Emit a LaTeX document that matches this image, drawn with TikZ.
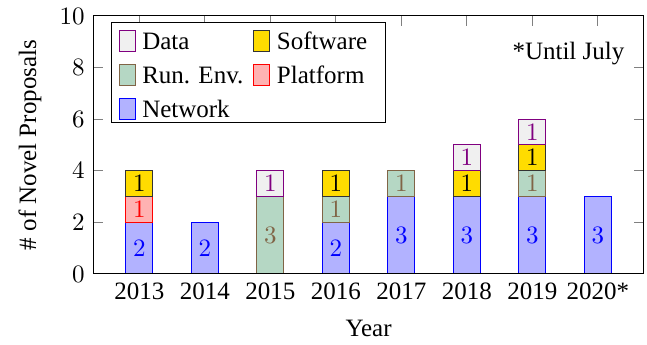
\documentclass[tikz,border=0pt]{standalone}
\usepackage{fontspec}
\newfontfamily\tmsfont{Liberation Serif}
\usetikzlibrary{positioning}

\definecolor{envfill}{RGB}{181,215,196}
\definecolor{envline}{RGB}{128,100,70}
\definecolor{softfill}{RGB}{255,220,0}

\tikzset{
  net/.style={draw=blue, fill=blue!30},
  env/.style={draw=envline, fill=envfill},
  plat/.style={draw=red, fill=red!30},
  soft/.style={draw=black!80, fill=softfill},
  dat/.style={draw=violet, fill=black!6},
  swatch/.style={minimum width=6.4pt, minimum height=8.5pt, inner sep=0pt},
  legtext/.style={font=\tmsfont, inner sep=2.5pt},
  tick/.style={gray},
}

\begin{document}
\begin{tikzpicture}[x=26.2pt,y=10.32pt]
    \useasboundingbox (-2.127,-2.752) rectangle (7.751,10.62);

    % ticks
    \foreach \y in {2,4,6,8} {
        \draw[tick] (-0.7,\y) -- ++(0.153,0);
        \draw[tick] (7.7,\y) -- ++(-0.153,0);
    }
    \foreach \i in {0,...,7}
        \draw[tick] (\i,10) -- ++(0,-0.39);

    % tick labels
    \foreach \y in {0,2,...,10}
        \node[left] (y\y) at (-0.7,\y) {$\y$};
    \foreach \i/\yr in {0/2013,1/2014,2/2015,3/2016,4/2017,5/2018,6/2019,7/2020*}
        \node[below, font=\tmsfont] (x\i) at (\i,0) {\yr};

    % stacked bars
    \foreach \i/\b/\h/\s/\c in {0/0/2/net/blue, 0/2/1/plat/red, 0/3/1/soft/black,
                                1/0/2/net/blue,
                                2/0/3/env/envline, 2/3/1/dat/violet,
                                3/0/2/net/blue, 3/2/1/env/envline, 3/3/1/soft/black,
                                4/0/3/net/blue, 4/3/1/env/envline,
                                5/0/3/net/blue, 5/3/1/soft/black, 5/4/1/dat/violet,
                                6/0/3/net/blue, 6/3/1/env/envline, 6/4/1/soft/black, 6/5/1/dat/violet,
                                7/0/3/net/blue} {
        \draw[\s] (\i-0.205,\b) rectangle (\i+0.205,\b+\h);
        \node[text=\c] (b\i-\b) at (\i,\b+\h/2) {$\h$};
    }

    \draw (-0.7,0) rectangle (7.7,10);

    % legend
    \draw[fill=white] (-0.432,5.853) rectangle (3.751,9.729);
    \node[swatch, dat] (ldat) at (-0.188,9.03) {};
    \node[swatch, env, below=4.7pt of ldat] (lenv) {};
    \node[swatch, net, below=4.7pt of lenv] (lnet) {};
    \node[swatch, soft] (lsoft) at (1.869,9.03) {};
    \node[swatch, plat, below=4.7pt of lsoft] (lplat) {};
    \node[legtext, right=0pt of ldat] (tdat) {Data};
    \node[legtext, right=0pt of lenv] (tenv) {Run. Env.};
    \node[legtext, right=0pt of lnet] (tnet) {Network};
    \node[legtext, right=0pt of lsoft] (tsoft) {Software};
    \node[legtext, right=0pt of lplat] (tplat) {Platform};

    \node[font=\tmsfont, anchor=east] (note) at (7.54,8.55) {*Until July};

    % axis labels
    \node[font=\tmsfont, rotate=90] (ylab) at (-1.669,5) {\# of Novel Proposals};
    \node[font=\tmsfont] (xlab) at (3.5,-2.13) {Year};
\end{tikzpicture}
\end{document}
